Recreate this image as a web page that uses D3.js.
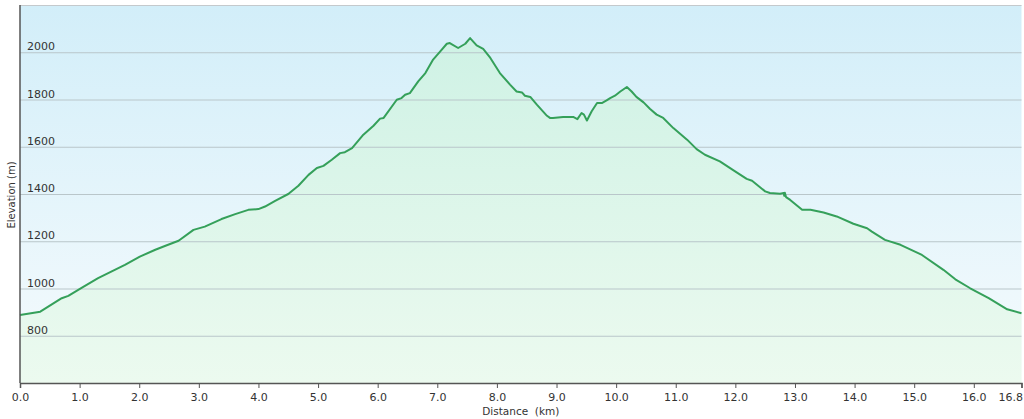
<!DOCTYPE html>
<html>
<head>
<meta charset="utf-8">
<script src="https://cdnjs.cloudflare.com/ajax/libs/d3/7.8.5/d3.min.js"></script>
<style>
    body { margin: 0; background: #fff; font-family: "DejaVu Sans", Verdana, sans-serif; }
    svg text { fill: #333; }
</style>
</head>
<body>
<svg width="1024" height="419"></svg>
<script>
    // distance (km) and elevation (m)
    var distance = [0, 0.34, 0.70, 0.81, 1.04, 1.31, 1.59, 1.76, 2.01, 2.27, 2.43, 2.66, 2.91, 3.10, 3.38, 3.61, 3.83, 4.00, 4.11, 4.28,
        4.50, 4.67, 4.84, 4.98, 5.09, 5.23, 5.37, 5.45, 5.57, 5.76, 5.93, 6.04, 6.10, 6.32, 6.40, 6.46, 6.54, 6.68, 6.80, 6.93,
        7.05, 7.16, 7.21, 7.35, 7.47, 7.55, 7.66, 7.77, 7.89, 8.05, 8.22, 8.33, 8.42, 8.47, 8.56, 8.67, 8.84, 8.89, 8.94, 9.11,
        9.28, 9.35, 9.42, 9.46, 9.51, 9.59, 9.68, 9.76, 9.84, 9.90, 9.98, 10.07, 10.18, 10.26, 10.34, 10.46, 10.57, 10.68, 10.79, 10.96,
        11.19, 11.35, 11.49, 11.74, 11.97, 12.19, 12.28, 12.50, 12.58, 12.75, 12.81, 12.82, 12.83, 12.85, 12.92, 13.12, 13.26, 13.48, 13.70, 13.98,
        14.21, 14.29, 14.51, 14.77, 15.13, 15.49, 15.69, 15.94, 16.25, 16.56, 16.8];
    var elevation = [888, 902, 959, 969, 1004, 1044, 1079, 1100, 1135, 1164, 1180, 1202, 1248, 1262, 1294, 1315, 1333, 1336, 1347, 1371,
        1400, 1435, 1481, 1510, 1519, 1545, 1573, 1577, 1594, 1651, 1689, 1719, 1722, 1799, 1806, 1820, 1827, 1877, 1912, 1969,
        2004, 2036, 2039, 2018, 2036, 2060, 2029, 2014, 1976, 1912, 1863, 1834, 1830, 1816, 1811, 1778, 1731, 1722, 1722, 1726,
        1726, 1717, 1743, 1736, 1711, 1750, 1785, 1785, 1796, 1806, 1816, 1834, 1853, 1834, 1811, 1788, 1760, 1736, 1722, 1679,
        1630, 1590, 1566, 1538, 1500, 1464, 1456, 1411, 1404, 1401, 1404, 1392, 1405, 1387, 1375, 1333, 1333, 1322, 1305, 1274,
        1255, 1241, 1206, 1185, 1142, 1079, 1039, 1001, 959, 912, 895];
    var xTicks = [0, 1, 2, 3, 4, 5, 6, 7, 8, 9, 10, 11, 12, 13, 14, 15, 16, 16.8];
    var yTicks = [800, 1000, 1200, 1400, 1600, 1800, 2000];

    var svg = d3.select("svg"),
        left = 20, right = 1021.5, plotTop = 5, bottom = 383;

    var x = d3.scaleLinear().domain([0, 16.8]).range([left, right]);
    var y = d3.scaleLinear().domain([600, 2200]).range([bottom, plotTop]);

    var data = distance.map(function(d, i) { return { d: d, e: elevation[i] }; });

    var defs = svg.append("defs");
    var bg = defs.append("linearGradient").attr("id", "bg")
        .attr("x1", 0).attr("y1", 0).attr("x2", 0).attr("y2", 1);
    bg.append("stop").attr("offset", "0%").attr("stop-color", "#d2eef9");
    bg.append("stop").attr("offset", "100%").attr("stop-color", "#f6fbfd");

    var fill = defs.append("linearGradient").attr("id", "fill")
        .attr("gradientUnits", "userSpaceOnUse")
        .attr("x1", 0).attr("y1", plotTop).attr("x2", 0).attr("y2", bottom);
    fill.append("stop").attr("offset", "0%").attr("stop-color", "#ccf1e4");
    fill.append("stop").attr("offset", "100%").attr("stop-color", "#ecfaef");

    svg.append("rect")
        .attr("x", left).attr("y", plotTop)
        .attr("width", right - left).attr("height", bottom - plotTop)
        .attr("fill", "url(#bg)");

    svg.append("path")
        .datum(data)
        .attr("fill", "url(#fill)")
        .attr("d", d3.area()
            .x(function(d) { return x(d.d); })
            .y0(bottom)
            .y1(function(d) { return y(d.e); }));

    // gridlines + labels inside the plot
    var grid = svg.append("g");
    grid.selectAll("line").data(yTicks).enter().append("line")
        .attr("x1", left).attr("x2", right)
        .attr("y1", function(d) { return y(d) + 0.5; })
        .attr("y2", function(d) { return y(d) + 0.5; })
        .attr("stroke", "#b9c6ca");
    grid.selectAll("text").data(yTicks).enter().append("text")
        .attr("x", left + 7)
        .attr("y", function(d) { return y(d) - 2; })
        .attr("font-size", 11)
        .text(function(d) { return d; });

    svg.append("line")
        .attr("x1", left).attr("x2", right)
        .attr("y1", plotTop + 0.5).attr("y2", plotTop + 0.5)
        .attr("stroke", "#c4c9cc");

    svg.append("path")
        .datum(data)
        .attr("fill", "none")
        .attr("stroke", "#35a05a")
        .attr("stroke-width", 2)
        .attr("stroke-linejoin", "round")
        .attr("d", d3.line()
            .x(function(d) { return x(d.d); })
            .y(function(d) { return y(d.e); }));

    // axes
    var xAxis = svg.append("g")
        .attr("transform", "translate(0," + bottom + ")")
        .call(d3.axisBottom(x).tickValues(xTicks).tickSize(5).tickFormat(d3.format(".1f")));
    xAxis.select(".domain").attr("stroke", "#555").attr("stroke-width", 1.5);
    xAxis.selectAll(".tick line").attr("stroke", "#555");
    xAxis.selectAll("text").attr("font-size", 11).attr("font-family", "DejaVu Sans").attr("fill", "#333").attr("dy", "0.9em");
    xAxis.selectAll(".tick text").filter(function(d) { return d === 16.8; })
        .attr("text-anchor", "end").attr("x", 1);

    svg.append("line")
        .attr("x1", left).attr("x2", left)
        .attr("y1", plotTop).attr("y2", bottom)
        .attr("stroke", "#555").attr("stroke-width", 1.5);

    svg.append("text")
        .attr("x", (left + right) / 2).attr("y", 415)
        .attr("text-anchor", "middle")
        .attr("font-size", 10.5)
        .style("white-space", "pre")
        .text("Distance  (km)");

    svg.append("text")
        .attr("transform", "translate(15,195) rotate(-90)")
        .attr("text-anchor", "middle")
        .attr("font-size", 10)
        .text("Elevation (m)");
</script>
</body>
</html>
